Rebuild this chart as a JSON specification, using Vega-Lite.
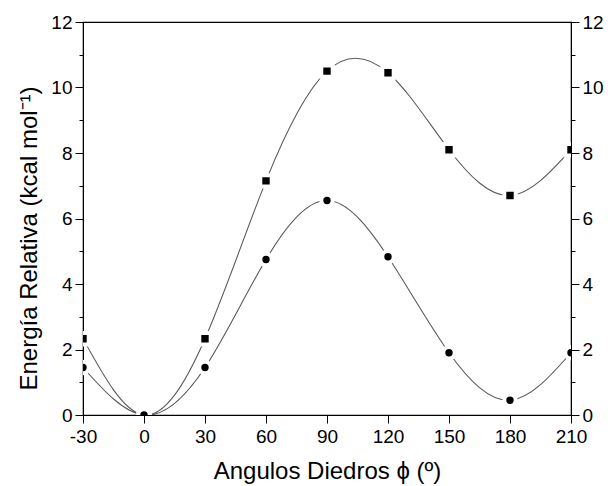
{
  "$schema": "https://vega.github.io/schema/vega-lite/v6.json",
  "width": 488,
  "height": 393,
  "autosize": {"type": "none"},
  "padding": {"left": 83, "top": 22, "right": 37, "bottom": 71},
  "background": "white",
  "config": {
    "view": {"stroke": "black", "strokeWidth": 1.2},
    "font": "Liberation Sans",
    "axis": {
      "grid": false,
      "domainColor": "black",
      "tickColor": "black",
      "labelColor": "black",
      "titleColor": "black",
      "labelFont": "Liberation Sans",
      "titleFont": "Liberation Sans",
      "labelFontSize": 19,
      "titleFontSize": 24,
      "titleFontWeight": "normal",
      "tickSize": 8,
      "labelPadding": 3,
      "labelFlush": false,
      "labelOverlap": false
    }
  },
  "data": {
    "values": [
      {"phi": -30, "E": 2.33, "series": "A"},
      {"phi": 0, "E": 0.0, "series": "A"},
      {"phi": 30, "E": 2.33, "series": "A"},
      {"phi": 60, "E": 7.15, "series": "A"},
      {"phi": 90, "E": 10.5, "series": "A"},
      {"phi": 120, "E": 10.45, "series": "A"},
      {"phi": 150, "E": 8.1, "series": "A"},
      {"phi": 180, "E": 6.7, "series": "A"},
      {"phi": 210, "E": 8.1, "series": "A"},
      {"phi": -30, "E": 1.45, "series": "B"},
      {"phi": 0, "E": 0.0, "series": "B"},
      {"phi": 30, "E": 1.45, "series": "B"},
      {"phi": 60, "E": 4.75, "series": "B"},
      {"phi": 90, "E": 6.55, "series": "B"},
      {"phi": 120, "E": 4.83, "series": "B"},
      {"phi": 150, "E": 1.9, "series": "B"},
      {"phi": 180, "E": 0.45, "series": "B"},
      {"phi": 210, "E": 1.9, "series": "B"}
    ]
  },
  "encoding": {
    "x": {
      "field": "phi",
      "type": "quantitative",
      "scale": {"domain": [-30, 210], "nice": false, "zero": false},
      "axis": {
        "title": "Angulos Diedros ϕ (º)",
        "values": [-30, 0, 30, 60, 90, 120, 150, 180, 210],
        "labelExpr": "toString(datum.value)",
        "labelPadding": 4,
        "titlePadding": 13
      }
    }
  },
  "layer": [
    {
      "mark": {"type": "line", "interpolate": "natural", "color": "#5a5a5a", "strokeWidth": 1.1, "clip": true},
      "encoding": {
        "y": {
          "field": "E",
          "type": "quantitative",
          "scale": {"domain": [0, 12], "nice": false},
          "axis": {
            "orient": "left",
            "title": "Energía Relativa (kcal mol⁻¹)",
            "values": [0, 2, 4, 6, 8, 10, 12],
            "titlePadding": 9,
            "titleY": 216
          }
        },
        "detail": {"field": "series"}
      }
    },
    {
      "mark": {"type": "point", "filled": true, "color": "black", "stroke": "white", "strokeWidth": 4, "strokeOpacity": 1, "opacity": 1, "size": 130, "clip": true},
      "encoding": {
        "y": {
          "field": "E",
          "type": "quantitative",
          "scale": {"domain": [0, 12], "nice": false},
          "axis": {
            "orient": "right",
            "title": null,
            "values": [0, 2, 4, 6, 8, 10, 12]
          }
        },
        "shape": {
          "field": "series",
          "type": "nominal",
          "scale": {"domain": ["A", "B"], "range": ["square", "circle"]},
          "legend": null
        },
        "fill": {"value": "black"},
        "stroke": {"value": "white"}
      }
    },
    {
      "mark": {"type": "point", "opacity": 0},
      "encoding": {
        "y": {
          "field": "E",
          "type": "quantitative",
          "scale": {"domain": [0, 12], "nice": false},
          "axis": {
            "orient": "left",
            "title": null,
            "values": [1, 3, 5, 7, 9, 11],
            "labels": false,
            "tickSize": 4,
            "domain": false
          }
        }
      }
    },
    {
      "mark": {"type": "point", "opacity": 0},
      "encoding": {
        "y": {
          "field": "E",
          "type": "quantitative",
          "scale": {"domain": [0, 12], "nice": false},
          "axis": {
            "orient": "right",
            "title": null,
            "values": [1, 3, 5, 7, 9, 11],
            "labels": false,
            "tickSize": 4,
            "domain": false
          }
        }
      }
    }
  ],
  "resolve": {"axis": {"y": "independent"}}
}
